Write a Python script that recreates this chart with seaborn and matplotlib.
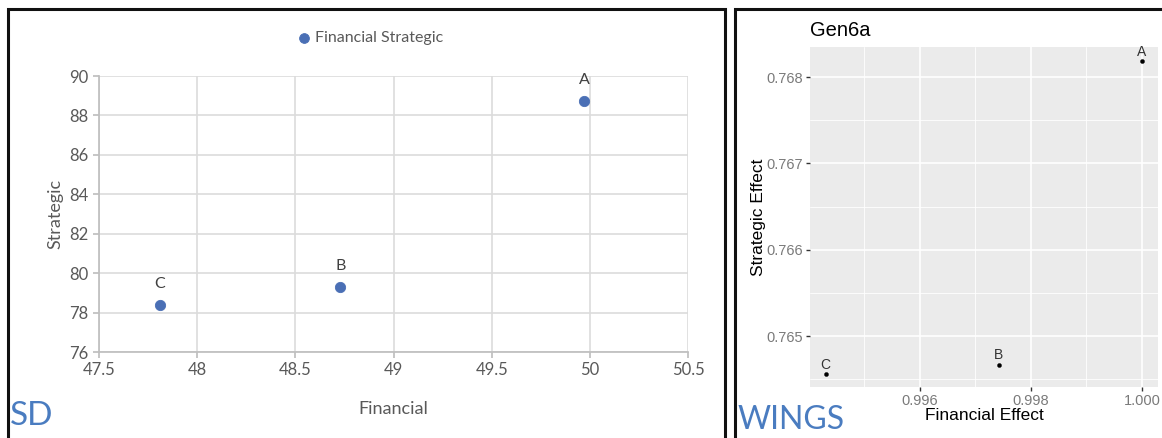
import matplotlib
matplotlib.use("Agg")
from matplotlib import pyplot as plt
from matplotlib.patches import Rectangle
from matplotlib.ticker import MultipleLocator, FormatStrFormatter
import seaborn as sns
import pandas as pd

# SD panel data
sd_labels = ["A", "B", "C"]
sd_financial = [49.97, 48.73, 47.81]
sd_strategic = [88.75, 79.3, 78.4]

# WINGS panel data
wings_labels = ["A", "B", "C"]
wings_financial = [1.0000, 0.99742, 0.99430]
wings_strategic = [0.76819, 0.76467, 0.76456]

W, H = 1162, 438


def box(x0, y0, x1, y1):
    # pixel box (top-left origin) -> figure fraction rect
    return [x0 / W, 1 - y1 / H, (x1 - x0) / W, (y1 - y0) / H]


sns.set_theme(style="white")
fig = plt.figure(figsize=(W / 100, H / 100), dpi=100)

# panel frames
fig.patches.append(Rectangle((8 / W, -0.05), (725 - 8) / W, 1.05 - 9 / H,
                             transform=fig.transFigure, fill=False,
                             edgecolor="#111111", linewidth=2.2))
fig.patches.append(Rectangle((735 / W, -0.05), 0.6, 1.05 - 9 / H,
                             transform=fig.transFigure, fill=False,
                             edgecolor="#111111", linewidth=2.2))

# ---- left: SD (Excel look) ----
sd = pd.DataFrame({"Financial": sd_financial, "Strategic": sd_strategic, "label": sd_labels})
ax1 = fig.add_axes(box(99, 76, 688, 352))
sns.scatterplot(data=sd, x="Financial", y="Strategic", ax=ax1, s=55,
                color="#4a6fb5", edgecolor="#4a6fb5", label="Financial Strategic", zorder=3)
ax1.set_xlim(47.5, 50.5)
ax1.set_ylim(76, 90)
ax1.xaxis.set_major_locator(MultipleLocator(0.5))
ax1.yaxis.set_major_locator(MultipleLocator(2))
ax1.xaxis.set_major_formatter(FormatStrFormatter("%g"))
ax1.grid(True, color="#dcdcdc", linewidth=1.2)
for side in ["top", "right"]:
    ax1.spines[side].set_visible(False)
for side in ["left", "bottom"]:
    ax1.spines[side].set_color("#bfbfbf")
ax1.tick_params(colors="#595959", labelsize=12, length=4, direction="out",
                left=True, bottom=True, color="#bfbfbf")
for lab in ax1.get_xticklabels() + ax1.get_yticklabels():
    lab.set_family("Lato")
ax1.set_xlabel("Financial", family="Lato", fontsize=13, color="#595959", labelpad=16)
ax1.set_ylabel("Strategic", family="Lato", fontsize=13, color="#595959", labelpad=4)
for x, y, t in zip(sd_financial, sd_strategic, sd_labels):
    ax1.annotate(t, (x, y), xytext=(0, 10), textcoords="offset points",
                 ha="center", va="bottom", family="Lato", fontsize=11.5, color="#404040")
ax1.legend(loc="center", bbox_to_anchor=(366 / W, 1 - 38 / H),
           bbox_transform=fig.transFigure, frameon=False, handletextpad=-0.3,
           markerscale=0.95, prop={"family": "Lato", "size": 11.5}, labelcolor="#595959")
fig.text(10 / W, 1 - 416 / H, "SD", family="Lato", fontsize=24,
         color="#4a7cc0", va="center", ha="left")

# ---- right: WINGS (ggplot look) ----
wg = pd.DataFrame({"Financial Effect": wings_financial,
                   "Strategic Effect": wings_strategic, "label": wings_labels})
ax2 = fig.add_axes(box(810, 47, 1158, 387))
ax2.set_facecolor("#ebebeb")
sns.scatterplot(data=wg, x="Financial Effect", y="Strategic Effect", ax=ax2,
                s=9, color="black", edgecolor="black", zorder=3)
ax2.set_xlim(0.99402, 1.00029)
ax2.set_ylim(0.76441, 0.76835)
ax2.xaxis.set_major_locator(MultipleLocator(0.002))
ax2.xaxis.set_minor_locator(MultipleLocator(0.001))
ax2.yaxis.set_major_locator(MultipleLocator(0.001))
ax2.yaxis.set_minor_locator(MultipleLocator(0.0005))
ax2.xaxis.set_major_formatter(FormatStrFormatter("%.3f"))
ax2.yaxis.set_major_formatter(FormatStrFormatter("%.3f"))
ax2.grid(True, which="major", color="white", linewidth=1.2)
ax2.grid(True, which="minor", color="white", linewidth=0.6)
for s in ax2.spines.values():
    s.set_visible(False)
ax2.tick_params(which="major", colors="#7a7a7a", labelsize=10.5, length=3,
                width=1, color="#333333", left=True, bottom=True, pad=2)
ax2.tick_params(which="minor", length=0)
for lab in ax2.get_xticklabels() + ax2.get_yticklabels():
    lab.set_family("Liberation Sans")
ax2.set_xlabel("Financial Effect", family="Liberation Sans", fontsize=12.5,
               color="black", labelpad=0)
ax2.set_ylabel("Strategic Effect", family="Liberation Sans", fontsize=12.5,
               color="black", labelpad=0)
for x, y, t in zip(wings_financial, wings_strategic, wings_labels):
    ax2.annotate(t, (x, y), xytext=(0, 1.5), textcoords="offset points",
                 ha="center", va="bottom", family="Liberation Sans", fontsize=10,
                 color="#333333")
fig.text(810 / W, 1 - 30 / H, "Gen6a", family="Liberation Sans", fontsize=14.5,
         color="black", va="center", ha="left")
fig.text(737 / W, 1 - 420 / H, "WINGS", family="Lato", fontsize=23,
         color="#4a7cc0", va="center", ha="left")

fig.savefig("out.png", dpi=100)
